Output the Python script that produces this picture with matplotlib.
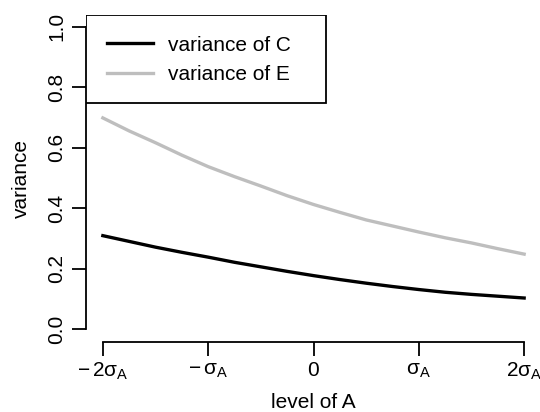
import matplotlib
matplotlib.use("Agg")
import matplotlib.pyplot as plt
from matplotlib.patches import Rectangle

# level of A, in units of sigma_A
level = [-2.0, -1.75, -1.5, -1.25, -1.0, -0.75, -0.5, -0.25, 0.0,
         0.25, 0.5, 0.75, 1.0, 1.25, 1.5, 1.75, 2.0]
var_C = [0.310, 0.291, 0.272, 0.255, 0.239, 0.222, 0.207, 0.192, 0.178,
         0.165, 0.153, 0.142, 0.132, 0.123, 0.116, 0.110, 0.104]
var_E = [0.699, 0.656, 0.617, 0.576, 0.538, 0.505, 0.474, 0.442, 0.413,
         0.387, 0.362, 0.342, 0.322, 0.303, 0.286, 0.267, 0.249]

xticks = [-2, -1, 0, 1, 2]
xtick_labels = [r'$-\,2\mathrm{\sigma_A}$', r'$-\,\mathrm{\sigma_A}$', '0',
                r'$\mathrm{\sigma_A}$', r'$2\mathrm{\sigma_A}$']
yticks = [0.0, 0.2, 0.4, 0.6, 0.8, 1.0]

plt.rcParams['font.family'] = ['Liberation Sans', 'DejaVu Sans']
plt.rcParams['mathtext.fontset'] = 'custom'
plt.rcParams['mathtext.rm'] = 'Liberation Sans'
plt.rcParams['mathtext.it'] = 'Liberation Sans:italic'

fig = plt.figure(figsize=(5.40, 4.12), dpi=100)
# plot region in pixels: x 86..541, y 14.7..341.6
ax = fig.add_axes([86 / 540, 1 - 341.6 / 412, 455 / 540, 326.9 / 412])

ax.plot(level, var_C, color='black', lw=2.4, label='variance of C')
ax.plot(level, var_E, color='#BEBEBE', lw=2.4, label='variance of E')

ax.set_xlim(-2.16, 2.16)
ax.set_ylim(-0.04, 1.04)

for s in ['top', 'right']:
    ax.spines[s].set_visible(False)
ax.spines['left'].set_bounds(0, 1)
ax.spines['bottom'].set_bounds(-2, 2)
for s in ['left', 'bottom']:
    ax.spines[s].set_linewidth(1.3)

ax.set_xticks(xticks)
ax.set_xticklabels(xtick_labels)
ax.set_yticks(yticks)
ax.set_yticklabels([f'{v:.1f}' for v in yticks], rotation=90, va='center')
ax.tick_params(axis='both', length=10, width=1.3, labelsize=15)
ax.tick_params(axis='x', pad=4)
ax.tick_params(axis='y', pad=4)

ax.set_xlabel('level of A', fontsize=15, labelpad=8)
ax.set_ylabel('variance', fontsize=15, labelpad=12)

# legend box like R's legend("topleft")
ax.add_patch(Rectangle((0, 1 - (103.4 - 14.7) / 326.9), (326 - 86) / 455,
                       (103.4 - 14.7) / 326.9, transform=ax.transAxes,
                       facecolor='white', edgecolor='black', lw=1.3, zorder=3))
leg = ax.legend(loc='upper left', bbox_to_anchor=(0, 1), borderaxespad=0,
                frameon=False, fontsize=15, handlelength=2.2, handletextpad=0.75,
                borderpad=1.0, labelspacing=0.5)
leg.set_zorder(4)

fig.savefig('out.png', dpi=100)
